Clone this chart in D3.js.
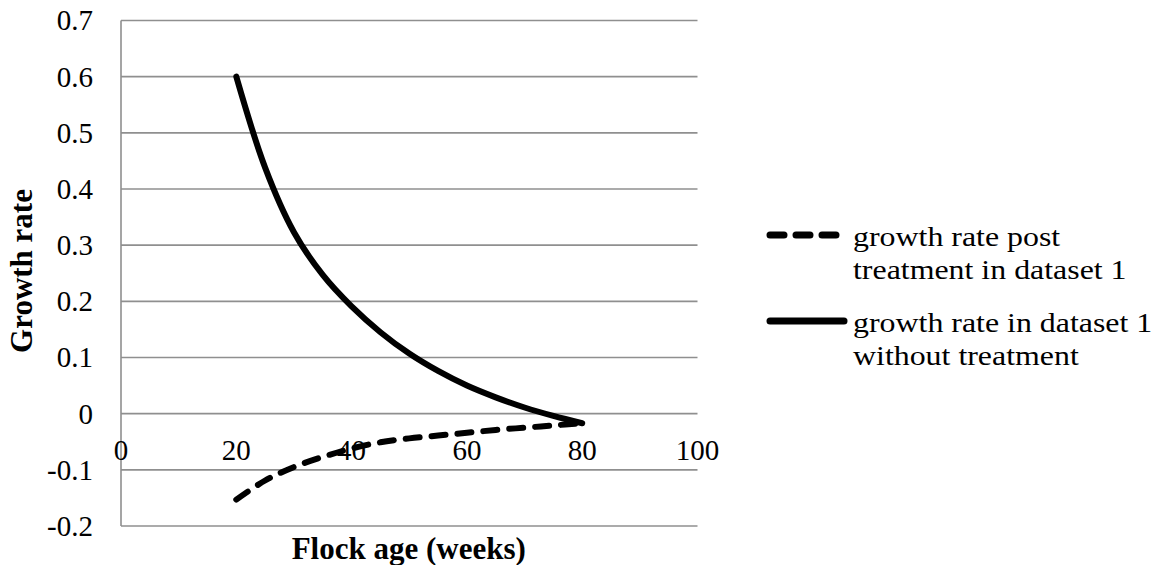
<!DOCTYPE html>
<html>
<head>
<meta charset="utf-8">
<script src="https://cdn.jsdelivr.net/npm/d3@7/dist/d3.min.js"></script>
<style>
  html, body { margin: 0; padding: 0; background: #fff; }
  svg { display: block; }
  text { font-family: "Liberation Serif", "Times New Roman", serif; fill: #000; }
</style>
</head>
<body>
<svg id="chart" width="1156" height="565"></svg>
<script>
// ---- data ----
const weeks = [20, 25, 30, 35, 40, 45, 50, 55, 60, 65, 70, 75, 80];
const withoutTreatment = [0.600, 0.438, 0.323, 0.247, 0.191, 0.145, 0.107, 0.076, 0.050, 0.029, 0.011, -0.004, -0.017];
const postTreatment = [-0.153, -0.119, -0.095, -0.077, -0.062, -0.051, -0.044, -0.039, -0.034, -0.029, -0.025, -0.021, -0.017];
const xTicks = [0, 20, 40, 60, 80, 100];
const yTicks = [-0.2, -0.1, 0, 0.1, 0.2, 0.3, 0.4, 0.5, 0.6, 0.7];
const seriesNames = ["growth rate post treatment in dataset 1", "growth rate in dataset 1 without treatment"];
const legendLines = [["growth rate post", "treatment in dataset 1"], ["growth rate in dataset 1", "without treatment"]];
const xTitle = "Flock age (weeks)";
const yTitle = "Growth rate";

// ---- layout ----
const svg = d3.select("#chart");
const mLeft = 121, mRight = 697.5, mTop = 20.5, mBottom = 526;
const x = d3.scaleLinear().domain([0, 100]).range([mLeft, mRight]);
const y = d3.scaleLinear().domain([-0.2, 0.7]).range([mBottom, mTop]);
const grid = "#8f8f8f";

// gridlines
svg.append("g").selectAll("line").data(yTicks).join("line")
  .attr("x1", mLeft).attr("x2", mRight)
  .attr("y1", d => y(d)).attr("y2", d => y(d))
  .attr("stroke", grid).attr("stroke-width", 1.6);

// vertical axis line
svg.append("line").attr("x1", mLeft).attr("x2", mLeft)
  .attr("y1", y(0.7)).attr("y2", y(-0.2))
  .attr("stroke", grid).attr("stroke-width", 1.6);

// y tick labels
svg.append("g").selectAll("text").data(yTicks).join("text")
  .attr("x", 93).attr("y", d => y(d)).attr("dy", "0.34em")
  .attr("text-anchor", "end").attr("font-size", 29)
  .text(d => d === 0 ? "0" : d3.format(".1f")(d).replace("−", "-"));

// x tick labels (axis crosses at 0)
svg.append("g").selectAll("text").data(xTicks).join("text")
  .attr("x", d => x(d)).attr("y", y(0) + 46)
  .attr("text-anchor", "middle").attr("font-size", 29)
  .text(d => d);

// series lines
const line = d3.line().x((d, i) => x(weeks[i])).y(d => y(d)).curve(d3.curveCatmullRom.alpha(0.5));
svg.append("path").datum(postTreatment).attr("d", line)
  .attr("fill", "none").attr("stroke", "#000").attr("stroke-width", 6)
  .attr("stroke-linecap", "round").attr("stroke-dasharray", "14,12");
svg.append("path").datum(withoutTreatment).attr("d", line)
  .attr("fill", "none").attr("stroke", "#000").attr("stroke-width", 6)
  .attr("stroke-linecap", "round").attr("stroke-linejoin", "round");

// axis titles
svg.append("text").attr("x", (mLeft + mRight) / 2 - 0.5).attr("y", 559)
  .attr("text-anchor", "middle").attr("font-size", 31).attr("font-weight", "bold")
  .text(xTitle);
svg.append("text").attr("transform", "translate(32,271) rotate(-90)")
  .attr("text-anchor", "middle").attr("font-size", 31).attr("font-weight", "bold")
  .text(yTitle);

// legend
const legend = svg.append("g");
const legendY = [235, 321];
const styles = [{dash: "14,12", cap: "round"}, {dash: null, cap: "round"}];
legendY.forEach((ly, i) => {
  legend.append("line").attr("x1", 770).attr("x2", i === 0 ? 836 : 844)
    .attr("y1", ly).attr("y2", ly)
    .attr("stroke", "#000").attr("stroke-width", 7)
    .attr("stroke-linecap", styles[i].cap)
    .attr("stroke-dasharray", styles[i].dash);
  legendLines[i].forEach((t, j) => {
    legend.append("text")
      .attr("transform", `translate(853,${ly + 11 + j * 33}) scale(1.16,1)`)
      .attr("font-size", 27.5)
      .text(t);
  });
});
</script>
</body>
</html>
